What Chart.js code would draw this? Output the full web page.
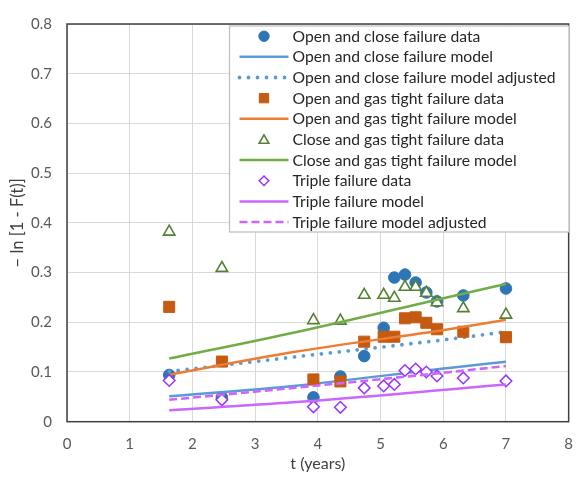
<!DOCTYPE html>
<html>
<head>
<meta charset="utf-8">
<script src="https://cdn.jsdelivr.net/npm/chart.js@4/dist/chart.umd.min.js"></script>
<style>
html,body{margin:0;padding:0;background:#fff;}
#wrap{width:586px;height:483px;position:relative;}
</style>
</head>
<body>
<div id="wrap"><canvas id="c" width="586" height="483"></canvas></div>
<script>
// ---- data ----
const tYears = [1.63, 2.47, 3.93, 4.36, 4.74, 5.05, 5.22, 5.39, 5.56, 5.73, 5.90, 6.32, 7.00];
const openCloseData   = [0.094, 0.049, 0.049, 0.091, 0.132, 0.189, 0.290, 0.296, 0.280, 0.260, 0.242, 0.254, 0.268];
const openGasData     = [0.231, 0.121, 0.085, 0.081, 0.161, 0.171, 0.171, 0.208, 0.210, 0.199, 0.186, 0.181, 0.170];
const closeGasData    = [0.382, 0.309, 0.204, 0.203, 0.255, 0.255, 0.249, 0.271, 0.271, 0.259, 0.240, 0.228, 0.215];
const tripleData      = [0.083, 0.044, 0.030, 0.029, 0.068, 0.072, 0.075, 0.103, 0.106, 0.100, 0.092, 0.088, 0.082];

const modelT = [1.63, 3.61, 6.09, 7.00];
const openCloseModel      = [0.051, 0.072, 0.108, 0.1205];
const openCloseModelAdj   = [0.101, 0.130, 0.166, 0.181];
const openGasModel        = [0.0945, 0.140, 0.186, 0.205];
const closeGasModel       = [0.127, 0.179, 0.251, 0.277];
const tripleModel         = [0.023, 0.039, 0.065, 0.075];
const tripleModelAdj      = [0.044, 0.068, 0.0996, 0.112];

const seriesNames = [
  'Open and close failure data',
  'Open and close failure model',
  'Open and close failure model adjusted',
  'Open and gas tight failure data',
  'Open and gas tight failure model',
  'Close and gas tight failure data',
  'Close and gas tight failure model',
  'Triple failure data',
  'Triple failure model',
  'Triple failure model adjusted'
];
const xTickLabels = ['0','1','2','3','4','5','6','7','8'];
const yTickLabels = ['0','0.1','0.2','0.3','0.4','0.5','0.6','0.7','0.8'];
const xTitle = 't (years)';
const yTitle = '\u2212 ln [1 - F(t)]';

// ---- build ----
const pts = (xs, ys) => xs.map((x, i) => ({x, y: ys[i]}));
const FONT = 'Lato, "Open Sans", sans-serif';

function scatterDs(label, ys, style) {
  return Object.assign({label, data: pts(tYears, ys), showLine: false}, style);
}
function lineDs(label, ys, style) {
  return Object.assign({label, data: pts(modelT, ys), showLine: true, pointRadius: 0,
    pointHoverRadius: 0, fill: false, cubicInterpolationMode: 'monotone', borderWidth: 2.5}, style);
}

const datasets = [
  scatterDs(seriesNames[0], openCloseData, {pointStyle:'circle', pointRadius:5.8, backgroundColor:'#2e75b6', borderColor:'#2e75b6', borderWidth:1}),
  lineDs(seriesNames[1], openCloseModel, {borderColor:'#5b9bd5'}),
  lineDs(seriesNames[2], openCloseModelAdj, {borderColor:'#5b9bd5', borderWidth:3.8, borderDash:[0.01, 9], borderCapStyle:'round'}),
  scatterDs(seriesNames[3], openGasData, {pointStyle:'rect', pointRadius:7.8, backgroundColor:'#c55a11', borderColor:'#c55a11', borderWidth:1}),
  lineDs(seriesNames[4], openGasModel, {borderColor:'#ed7d31'}),
  scatterDs(seriesNames[5], closeGasData, {pointStyle:'triangle', pointRadius:6.6, backgroundColor:'#ffffff', borderColor:'#548235', borderWidth:1.6}),
  lineDs(seriesNames[6], closeGasModel, {borderColor:'#70ad47'}),
  scatterDs(seriesNames[7], tripleData, {pointStyle:'rectRot', pointRadius:5.8, backgroundColor:'#ffffff', borderColor:'#9933ff', borderWidth:1.5}),
  lineDs(seriesNames[8], tripleModel, {borderColor:'#cc66ff'}),
  lineDs(seriesNames[9], tripleModelAdj, {borderColor:'#cc66ff', borderWidth:2.6, borderDash:[8, 4]})
];
datasets.forEach((d, i) => d.order = datasets.length - i);

const plotBorder = {
  id: 'plotBorder',
  afterDatasetsDraw(chart) {
    const {ctx, chartArea: a} = chart;
    ctx.save();
    ctx.strokeStyle = '#404040';
    ctx.lineWidth = 1.5;
    ctx.strokeRect(a.left, a.top, a.right - a.left, a.bottom - a.top);
    ctx.restore();
  }
};

const boxLegend = {
  id: 'boxLegend',
  afterDraw(chart) {
    const ctx = chart.ctx;
    const L = 229.5, T = 26, R = 569, B = 232;
    ctx.save();
    ctx.fillStyle = '#ffffff';
    ctx.fillRect(L, T, R - L, B - T);
    ctx.strokeStyle = '#bfbfbf';
    ctx.lineWidth = 1.25;
    ctx.strokeRect(L, T, R - L, B - T);
    const rowY0 = 36.2, pitch = 20.65;
    const symX = 264, lx0 = 239.5, lx1 = 288.5, textX = 292.5;
    chart.data.datasets.forEach((ds, i) => {
      const y = rowY0 + i * pitch;
      if (ds.showLine) {
        ctx.save();
        ctx.strokeStyle = ds.borderColor;
        ctx.lineWidth = ds.borderWidth;
        ctx.lineCap = ds.borderCapStyle || 'butt';
        ctx.setLineDash(ds.borderDash || []);
        ctx.beginPath();
        ctx.moveTo(lx0, y); ctx.lineTo(lx1, y);
        ctx.stroke();
        ctx.restore();
      } else {
        ctx.save();
        ctx.fillStyle = ds.backgroundColor;
        ctx.strokeStyle = ds.borderColor;
        ctx.lineWidth = ds.borderWidth;
        const r = ds.pointStyle === 'rect' ? 6.6 : (ds.pointStyle === 'triangle' ? 5.6 : (ds.pointStyle === 'rectRot' ? 4.8 : 5.2));
        Chart.helpers.drawPoint(ctx, {pointStyle: ds.pointStyle, rotation: 0, radius: r, borderWidth: ds.borderWidth},
          symX, y + (ds.pointStyle === 'triangle' ? 1 : 0));
        ctx.restore();
      }
      ctx.fillStyle = '#262626';
      ctx.font = '15.7px ' + FONT;
      ctx.textBaseline = 'middle';
      ctx.textAlign = 'left';
      ctx.fillText(ds.label, textX, y + 0.5);
    });
    ctx.restore();
  }
};

new Chart(document.getElementById('c'), {
  type: 'scatter',
  data: {datasets},
  plugins: [plotBorder, boxLegend],
  options: {
    responsive: false,
    animation: false,
    events: [],
    layout: {padding: {left: 0, right: 3.5, top: 12, bottom: 0}},
    plugins: {legend: {display: false}, tooltip: {enabled: false}},
    scales: {
      x: {
        type: 'linear', min: 0, max: 8,
        afterFit(s) { s.height = 61.3; },
        grid: {color: '#d9d9d9', lineWidth: 1, drawTicks: false},
        border: {display: false},
        ticks: {stepSize: 1, padding: 13, color: '#595959', font: {family: FONT, size: 15},
                callback: (v, i) => xTickLabels[i]},
        title: {display: true, text: xTitle, color: '#404040', font: {family: FONT, size: 16}, padding: {top: 0, bottom: 10}}
      },
      y: {
        type: 'linear', min: 0, max: 0.8,
        afterFit(s) { s.width = 67; },
        grid: {color: '#d9d9d9', lineWidth: 1, drawTicks: false},
        border: {display: false},
        ticks: {stepSize: 0.1, padding: 15, color: '#595959', font: {family: FONT, size: 15},
                callback: (v, i) => yTickLabels[i]},
        title: {display: true, text: yTitle, color: '#404040', font: {family: FONT, size: 16.5}, padding: {top: 8, bottom: 0}}
      }
    }
  }
});
</script>
</body>
</html>
